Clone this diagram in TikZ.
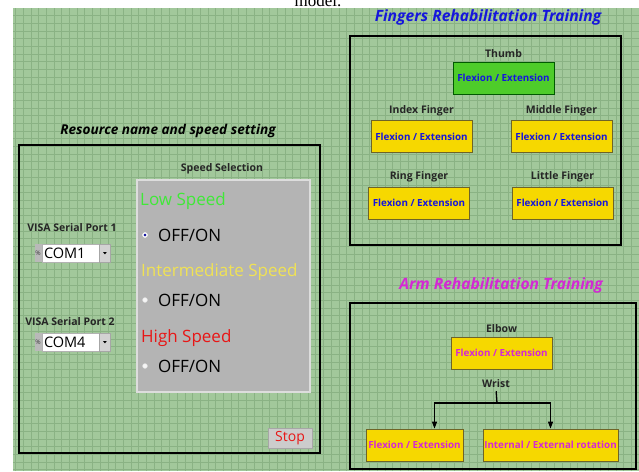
\documentclass[tikz,border=0pt]{standalone}
\usepackage{fontspec}
\setmainfont{Open Sans}
\newfontfamily\pagefont{Liberation Serif}
\usepackage{tikz}
\usetikzlibrary{
  arrows.meta,
  positioning,
}
\definecolor{gridgreen}{RGB}{162,200,155}
\definecolor{gridline}{RGB}{138,178,132}
\definecolor{btnyellow}{RGB}{246,216,0}
\definecolor{btnedge}{RGB}{110,100,40}
\definecolor{btngreen}{RGB}{78,204,42}
\definecolor{labelblue}{RGB}{22,22,220}
\definecolor{labelmagenta}{RGB}{212,40,212}
\definecolor{panelgray}{RGB}{180,180,180}
\definecolor{lowgreen}{RGB}{64,232,56}
\definecolor{midyellow}{RGB}{240,226,84}
\definecolor{highred}{RGB}{232,22,22}
\tikzstyle{panel} = [draw=black, line width=1.3pt]
\tikzstyle{title} = [inner sep=0, font=\bfseries\itshape\fontsize{15.6}{16}\selectfont]
\tikzstyle{caption} = [inner sep=1pt, text=black!85, font=\bfseries\fontsize{10.5}{11}\selectfont]
\tikzstyle{button} = [
  draw=btnedge,
  fill=btnyellow,
  rectangle,
  line width=0.8pt,
  minimum width=101,
  minimum height=32,
  inner sep=0,
  font=\bfseries\fontsize{9.8}{10}\selectfont,
  text=labelblue,
]
\tikzstyle{speedtxt} = [anchor=west, inner sep=0, font=\fontsize{17}{18}\selectfont]
\tikzstyle{radio} = [circle, inner sep=0, minimum size=5, draw=gray!30, fill=white!92!gray]
\tikzstyle{combo} = [draw=gray!60, fill=white, minimum height=18, inner sep=2pt, text width=53pt, align=left, font=\fontsize{14.5}{15}\selectfont]
\tikzstyle{iconbox} = [fill=gray!55, minimum width=7, minimum height=18, inner sep=0, text=black!75, font=\fontsize{6.5}{6.5}\selectfont]
\tikzstyle{dropbtn} = [draw=gray!70, fill=gray!35, minimum width=11, minimum height=18, inner sep=0]
\tikzstyle{link} = [line width=1.3pt, draw=black]
\tikzstyle{arrow} = [link, -{Triangle[length=7pt,width=5pt]}]

\begin{document}
\begin{tikzpicture}[x=1pt,y=-1pt,node distance=3pt and 0pt]

  \useasboundingbox (0,0) rectangle (639,471);
  \fill[white] (0,0) rectangle (639,471);
  \node[font=\pagefont\fontsize{17}{17}\selectfont,anchor=base] (pg) at (318,6) {model.};
  \fill[gridgreen] (13,8) rectangle (639,471);
  \begin{scope}
    \clip (13,8) rectangle (639,471);
    \draw[gridline,line width=0.5pt,step=7.7pt] (13,8) grid (639,471);
  \end{scope}

  \draw[panel] (350,36) rectangle (621,245);
  \node[title,text=labelblue] (t0) at (488,17) {Fingers Rehabilitation Training};
  \node[button,fill=btngreen,draw=green!35!black] (f0) at (503.5,78) {Flexion / Extension};
  \node[caption,above=of f0] (c0) {Thumb};
  \node[button] (f1) at (421.5,136.5) {Flexion / Extension};
  \node[caption,above=of f1] (c1) {Index Finger};
  \node[button] (f2) at (561.5,136.5) {Flexion / Extension};
  \node[caption,above=of f2] (c2) {Middle Finger};
  \node[button] (f3) at (419,203) {Flexion / Extension};
  \node[caption,above=of f3] (c3) {Ring Finger};
  \node[button] (f4) at (562.5,203) {Flexion / Extension};
  \node[caption,above=of f4] (c4) {Little Finger};

  \draw[panel] (350,303) rectangle (636,469);
  \node[title,text=labelmagenta] (t1) at (501,285) {Arm Rehabilitation Training};
  \node[button,text=labelmagenta] (r0) at (501.5,353) {Flexion / Extension};
  \node[caption,above=of r0] (c5) {Elbow};
  \node[caption] (c6) at (496,384) {Wrist};
  \node[button,text=labelmagenta,minimum width=97] (r1) at (414.5,445) {Flexion / Extension};
  \node[button,text=labelmagenta,minimum width=135] (r2) at (550.5,445) {Internal / External rotation};
  \coordinate (split) at (497,403);
  \draw[link,shorten <=2pt] (c6.south) -- (split);
  \draw[arrow] (split) -| ([xshift=20pt]r1.north);
  \draw[arrow] (split) -| (r2.north);

  \draw[panel] (19,145) rectangle (320,453);
  \node[title,text=black,font=\bfseries\itshape\fontsize{13.6}{14}\selectfont] (t2) at (168,131) {Resource name and speed setting};
  \node[caption] (c7) at (222,169) {Speed Selection};
  \node[draw=panelgray!45!white,fill=panelgray,line width=1.2pt,minimum width=173,minimum height=212,inner sep=0] (sp) at (223.5,286) {};
  \node[speedtxt,text=lowgreen] (s0) at (140,201) {Low Speed};
  \node[speedtxt,text=black] (o0) at (158,235) {OFF/ON};
  \node[radio,draw=white] (d0) at (145,235) {};
  \fill[blue!60!black] (d0) circle (1.4);
  \node[speedtxt,text=midyellow] (s1) at (141,272) {Intermediate Speed};
  \node[speedtxt,text=black] (o1) at (158,300) {OFF/ON};
  \node[radio] (d1) at (145,300) {};
  \node[speedtxt,text=highred] (s2) at (141,338) {High Speed};
  \node[speedtxt,text=black] (o2) at (158,366) {OFF/ON};
  \node[radio] (d2) at (145,366) {};

  \node[caption] (v0) at (72,228) {VISA Serial Port 1};
  \node[combo] (m0) at (70.5,253) {COM1};
  \node[iconbox,left=0pt of m0] (i0) {\%};
  \node[dropbtn,right=0pt of m0] (b0) {};
  \fill ([shift={(-1.8,-0.8)}]b0.center) -- ++(3.6,0) -- ++(-1.8,2.2) -- cycle;
  \node[caption] (v1) at (70,322) {VISA Serial Port 2};
  \node[combo] (m1) at (70.5,342) {COM4};
  \node[iconbox,left=0pt of m1] (i1) {\%};
  \node[dropbtn,right=0pt of m1] (b1) {};
  \fill ([shift={(-1.8,-0.8)}]b1.center) -- ++(3.6,0) -- ++(-1.8,2.2) -- cycle;

  \node[draw=gray!70,fill=gray!40,minimum width=44,minimum height=20,inner sep=0,text=highred,font=\fontsize{14}{15}\selectfont] (st) at (290,438) {Stop};

\end{tikzpicture}
\end{document}
